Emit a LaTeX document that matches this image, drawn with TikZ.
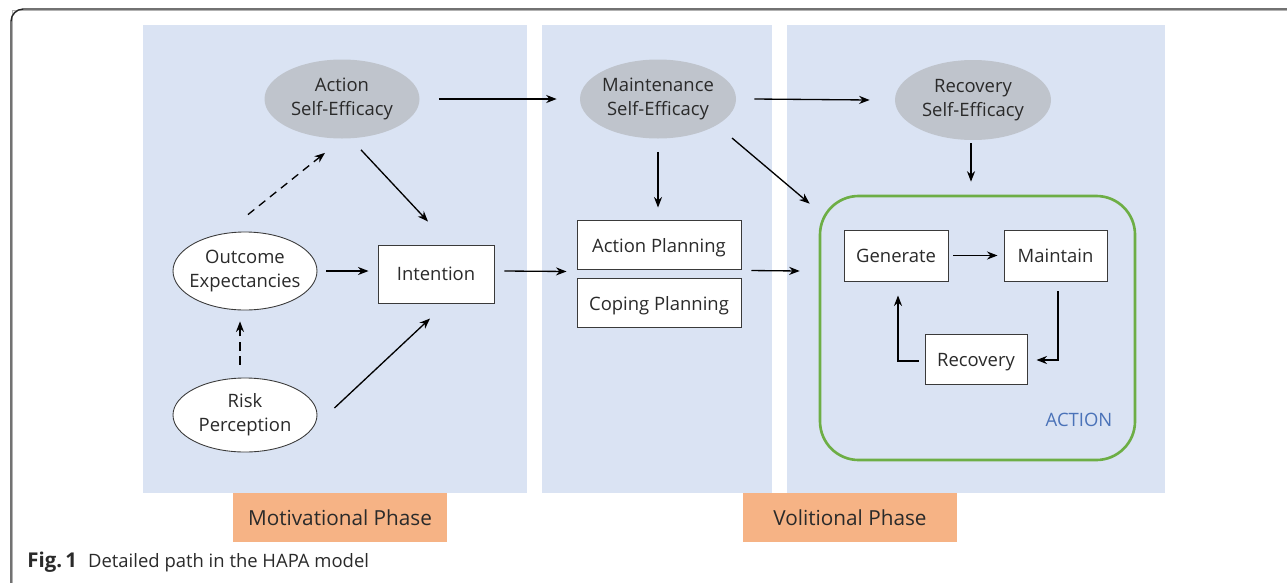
\documentclass[tikz,border=0pt]{standalone}
\usepackage{fontspec}
\setmainfont{Open Sans}
\usetikzlibrary{shapes.geometric,arrows.meta,calc}
\definecolor{panelblue}{HTML}{DAE3F3}
\definecolor{ovalgray}{HTML}{BFC4CC}
\definecolor{phaseorange}{HTML}{F6B385}
\definecolor{actgreen}{HTML}{6DAE45}
\definecolor{actblue}{HTML}{4A72B8}
\definecolor{txt}{HTML}{2A2A2A}
\definecolor{edge}{HTML}{3A3A3A}
\newcommand{\lowered}[1]{\raisebox{-1.8pt}[\height][\depth]{#1}}
\tikzset{
  panel/.style={fill=panelblue, draw=none},
  phasebox/.style={fill=phaseorange, draw=none, text=txt, font=\fontsize{11.8}{14}\selectfont},
  grayoval/.style={ellipse, fill=ovalgray, draw=none, text=txt, align=center, font=\fontsize{10.5}{13.5}\selectfont, inner xsep=-6pt, inner ysep=0pt},
  whiteoval/.style={ellipse, fill=white, draw=edge, line width=0.5pt, text=txt, align=center, font=\fontsize{10.5}{13.5}\selectfont, inner xsep=-8pt, inner ysep=0pt},
  boxnode/.style={rectangle, fill=white, draw=edge, line width=0.55pt, text=txt, align=center, font=\fontsize{10.5}{13}\selectfont, inner sep=0pt},
  conn/.style={line width=0.75pt, -{Stealth[length=6pt,width=4.6pt]}},
  dconn/.style={conn, dash pattern=on 4.6pt off 3.4pt},
}
\begin{document}
\begin{tikzpicture}[x=0.02cm,y=-0.02cm]
\useasboundingbox (0,0) rectangle (1287,582);
\begin{scope}
\clip (0,0) rectangle (1287,582);
\draw[line width=0.35pt, gray!60] (12.2,620) -- (12.2,10.8) -- (1320,10.8);
\draw[line width=0.8pt, black!85, rounded corners=7pt] (11,620) -- (11,9) -- (1320,9);
\end{scope}
% panels
\fill[panel] (143,25) rectangle (527,493);
\fill[panel] (542,25) rectangle (772,493);
\fill[panel] (787,25) rectangle (1165,493);
% phase labels
\node[phasebox, minimum width=214*0.02cm, minimum height=49*0.02cm] (mot) at (340,517.5) {Motivational Phase};
\node[phasebox, minimum width=214*0.02cm, minimum height=49*0.02cm] (vol) at (850,517.5) {Volitional Phase};
% ACTION container
\node[draw=actgreen, line width=1.5pt, rounded corners=22pt, fill=none, minimum width=315*0.02cm, minimum height=264*0.02cm, inner sep=0pt] (act) at (977.5,328) {};
\node[text=actblue, font=\fontsize{10.5}{13}\selectfont] (acttxt) at (1079,420) {ACTION};
% ovals
\node[grayoval, minimum width=155*0.02cm, minimum height=79*0.02cm] (ase) at (342,99) {Action\\Self-Efficacy};
\node[grayoval, minimum width=156*0.02cm, minimum height=79*0.02cm] (mse) at (658,99) {Maintenance\\Self-Efficacy};
\node[grayoval, minimum width=156*0.02cm, minimum height=80*0.02cm] (rse) at (973,100) {Recovery\\Self-Efficacy};
\node[whiteoval, minimum width=144*0.02cm, minimum height=78*0.02cm] (oe) at (245,271) {Outcome\\Expectancies};
\node[whiteoval, minimum width=144*0.02cm, minimum height=74*0.02cm] (rp) at (245,415) {Risk\\Perception};
% boxes
\node[boxnode, minimum width=116*0.02cm, minimum height=58*0.02cm] (int) at (436,274) {Intention};
\node[boxnode, minimum width=164*0.02cm, minimum height=49*0.02cm] (ap) at (659,244.5) {\lowered{Action Planning}};
\node[boxnode, minimum width=164*0.02cm, minimum height=49*0.02cm] (cp) at (659,302.5) {\lowered{Coping Planning}};
\node[boxnode, minimum width=104*0.02cm, minimum height=51*0.02cm] (gen) at (896,255.5) {Generate};
\node[boxnode, minimum width=103*0.02cm, minimum height=51*0.02cm] (mnt) at (1055.5,255.5) {Maintain};
\node[boxnode, minimum width=102*0.02cm, minimum height=50*0.02cm] (rec) at (976,359) {\lowered{Recovery}};
% connectors
\draw[conn] ($(ase.east)+(19,0)$) -- ($(mse.west)+(-23,0)$);
\draw[conn] ($(mse.east)+(18,0)$) -- ($(rse.west)+(-25,0)$);
\draw[conn] ($(ase.south)+(19,11)$) -- ($(int.north)+(-8,-23)$);
\draw[dconn] ($(oe.north)+(3,-17)$) -- ($(ase.south)+(-17,14)$);
\draw[conn] ($(oe.east)+(9,0)$) -- ($(int.west)+(-9,-3)$);
\draw[dconn] ($(rp.north)+(-5,-13)$) -- ($(oe.south)+(-5,11)$);
\draw[conn] ($(rp.east)+(17,-7)$) -- ($(int.south)+(-6,15)$);
\draw[conn] ($(int.east)+(10,-3)$) -- ($(ap.south west)+(-10,2)$);
\draw[conn] ($(mse.south)+(0,13)$) -- ($(ap.north)+(-1,-12)$);
\draw[conn] ($(mse.center)+(74,39)$) -- ($(act.north west)+(-9,9)$);
\draw[conn] ($(cp.north east)+(10,-7)$) -- ($(act.west)+(-19,-57)$);
\draw[conn] ($(rse.south)+(-2,3)$) -- ($(act.north)+(-6.5,-13)$);
\draw[conn] ($(gen.east)+(5,0)$) -- ($(mnt.west)+(-6,0)$);
\draw[conn] ($(mnt.south)+(2.5,10)$) |- ($(rec.east)+(9,1)$);
\draw[conn] ($(rec.west)+(-6,2)$) -| ($(gen.south)+(2,14)$);
% caption
\node[anchor=west, text=txt, font=\fontsize{10.5}{12}\selectfont, inner sep=0pt] (cap) at (27,562) {{\fontsize{11.6}{12}\selectfont\textbf{Fig.\,1}}\hspace{0.6em}Detailed path in the HAPA model};
\end{tikzpicture}
\end{document}
